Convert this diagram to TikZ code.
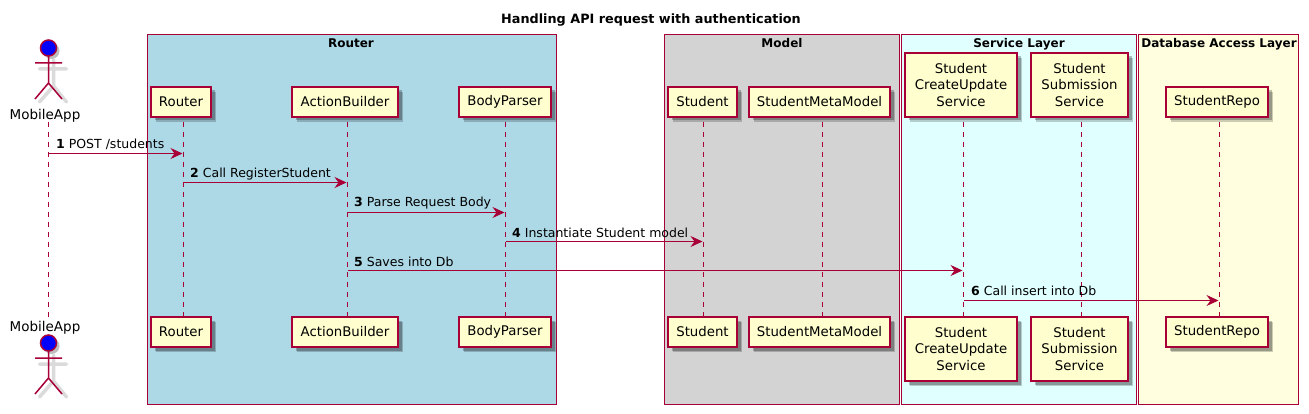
\documentclass[tikz,border=0pt]{standalone}
\usepackage{fontspec}
\setmainfont{DejaVu Sans}
\usetikzlibrary{arrows.meta,shadows}

\definecolor{crimson}{HTML}{A80036}
\definecolor{partyellow}{HTML}{FEFECE}
\definecolor{routerblue}{HTML}{ADD8E6}
\definecolor{modelgray}{HTML}{D3D3D3}
\definecolor{servicecyan}{HTML}{E0FFFF}
\definecolor{dbyellow}{HTML}{FFFFE0}

\tikzset{
	grp/.style={draw=crimson, line width=1pt},
	grptitle/.style={font=\bfseries\fontsize{12}{15}\selectfont, anchor=base},
	party/.style={draw=crimson, fill=partyellow, line width=1.3pt, inner sep=0pt, align=center,
		font=\fontsize{13.3}{16.5}\selectfont,
		drop shadow={shadow xshift=5pt, shadow yshift=-5pt, fill=black, opacity=0.2},
		drop shadow={shadow xshift=3.5pt, shadow yshift=-3.5pt, fill=black, opacity=0.25}},
	lifeline/.style={draw=crimson, line width=1pt, dash pattern=on 5pt off 5pt},
	msg/.style={draw=crimson, line width=1pt, shorten >=1pt, -{Stealth[length=12pt, width=11pt, inset=4pt]}},
	msgtext/.style={font=\fontsize{12.5}{15}\selectfont, anchor=base west, inner sep=0pt},
	actorname/.style={font=\fontsize{13.5}{17}\selectfont, anchor=base, inner sep=0pt},
	actor/.pic={
		% shadow
		\draw[black!14, line width=3.5pt, line cap=round] (5,12) -- (5,38) (-9,21) -- (18,21) (5,38) -- (-9,54) (5,38) -- (18,54);
		\fill[black!25] (3,3) circle (8);
		% figure
		\draw[crimson, line width=1.5pt] (0,8) -- (0,35) (-13.5,15) -- (13.5,15) (0,35) -- (-13.5,51) (0,35) -- (13.5,51);
		\draw[crimson, fill=blue, line width=1.5pt] (0,0) circle (8);
	}
}

\begin{document}
\begin{tikzpicture}[x=1pt,y=-1pt]

	\useasboundingbox (0,0) rectangle (1309,414);

	% title
	\node[font=\bfseries\fontsize{12.8}{15}\selectfont, anchor=base] (title) at (651,24) {Handling API request with authentication};

	% groups
	\filldraw[grp, fill=routerblue] (147.5,34.5) rectangle (556.5,404.5);
	\filldraw[grp, fill=modelgray] (664.5,34.5) rectangle (899.5,404.5);
	\filldraw[grp, fill=servicecyan] (901.5,34.5) rectangle (1136.5,404.5);
	\filldraw[grp, fill=dbyellow] (1138.5,34.5) rectangle (1298.5,404.5);

	\node[grptitle] (routertitle) at (351,48) {Router};
	\node[grptitle] (modeltitle) at (782,48) {Model};
	\node[grptitle] (servicetitle) at (1019,48) {Service Layer};
	\node[grptitle] (dbtitle) at (1219,48) {Database Access Layer};

	% lifeline heads
	\coordinate (mobileL) at (48.5,122);
	\coordinate (routerL) at (183.5,122);
	\coordinate (actionL) at (347.5,122);
	\coordinate (bodyL) at (505.5,122);
	\coordinate (studentL) at (703.5,122);
	\coordinate (metaL) at (822.5,122);
	\coordinate (createL) at (963.5,122);
	\coordinate (submitL) at (1081.5,122);
	\coordinate (repoL) at (1219.5,122);
	\coordinate (mobileE) at (48.5,317);

	% top boxes
	\node[party, minimum width=60pt, minimum height=30pt] (routerT) at (181,102) {Router};
	\node[party, minimum width=106pt, minimum height=30pt] (actionT) at (345,102) {ActionBuilder};
	\node[party, minimum width=92pt, minimum height=30pt] (bodyT) at (505,102) {BodyParser};
	\node[party, minimum width=69pt, minimum height=30pt] (studentT) at (702.5,102) {Student};
	\node[party, minimum width=141pt, minimum height=30pt] (metaT) at (819.5,102) {StudentMetaModel};
	\node[party, minimum width=112pt, minimum height=64pt] (createT) at (961,85) {Student\\CreateUpdate\\Service};
	\node[party, minimum width=97pt, minimum height=64pt] (submitT) at (1079.5,85) {Student\\Submission\\Service};
	\node[party, minimum width=102pt, minimum height=30pt] (repoT) at (1217,102) {StudentRepo};

	% bottom boxes
	\node[party, minimum width=60pt, minimum height=30pt] (routerB) at (181,332) {Router};
	\node[party, minimum width=106pt, minimum height=30pt] (actionB) at (345,332) {ActionBuilder};
	\node[party, minimum width=92pt, minimum height=30pt] (bodyB) at (505,332) {BodyParser};
	\node[party, minimum width=69pt, minimum height=30pt] (studentB) at (702.5,332) {Student};
	\node[party, minimum width=141pt, minimum height=30pt] (metaB) at (819.5,332) {StudentMetaModel};
	\node[party, minimum width=112pt, minimum height=64pt] (createB) at (961,349) {Student\\CreateUpdate\\Service};
	\node[party, minimum width=97pt, minimum height=64pt] (submitB) at (1079.5,349) {Student\\Submission\\Service};
	\node[party, minimum width=102pt, minimum height=30pt] (repoB) at (1217,332) {StudentRepo};

	% lifelines
	\draw[lifeline] (mobileL) -- (mobileE);
	\draw[lifeline] (routerL) -- (routerL |- routerB.north);
	\draw[lifeline] (actionL) -- (actionL |- actionB.north);
	\draw[lifeline] (bodyL) -- (bodyL |- bodyB.north);
	\draw[lifeline] (studentL) -- (studentL |- studentB.north);
	\draw[lifeline] (metaL) -- (metaL |- metaB.north);
	\draw[lifeline] (createL) -- (createL |- createB.north);
	\draw[lifeline] (submitL) -- (submitL |- submitB.north);
	\draw[lifeline] (repoL) -- (repoL |- repoB.north);

	% actor
	\pic at (48.5,48) {actor};
	\pic at (48.5,343) {actor};
	\node[actorname] (mobileT) at (45,120) {MobileApp};
	\node[actorname] (mobileB) at (45,331) {MobileApp};

	% message rows
	\coordinate (m1) at (0,153.5);
	\coordinate (m2) at (0,182.5);
	\coordinate (m3) at (0,212.5);
	\coordinate (m4) at (0,241.5);
	\coordinate (m5) at (0,270.5);
	\coordinate (m6) at (0,300.5);

	% messages
	\draw[msg] (mobileL |- m1) -- (routerL |- m1);
	\draw[msg] (routerL |- m2) -- (actionL |- m2);
	\draw[msg] (actionL |- m3) -- (bodyL |- m3);
	\draw[msg] (bodyL |- m4) -- (studentL |- m4);
	\draw[msg] (actionL |- m5) -- (createL |- m5);
	\draw[msg] (createL |- m6) -- (repoL |- m6);

	% message labels
	\node[msgtext] (t1) at (56,149) {\textbf{1} POST /students};
	\node[msgtext] (t2) at (190,178) {\textbf{2} Call RegisterStudent};
	\node[msgtext] (t3) at (354,207) {\textbf{3} Parse Request Body};
	\node[msgtext] (t4) at (512,237) {\textbf{4} Instantiate Student model};
	\node[msgtext] (t5) at (354,266) {\textbf{5} Saves into Db};
	\node[msgtext] (t6) at (971,295) {\textbf{6} Call insert into Db};

\end{tikzpicture}
\end{document}
